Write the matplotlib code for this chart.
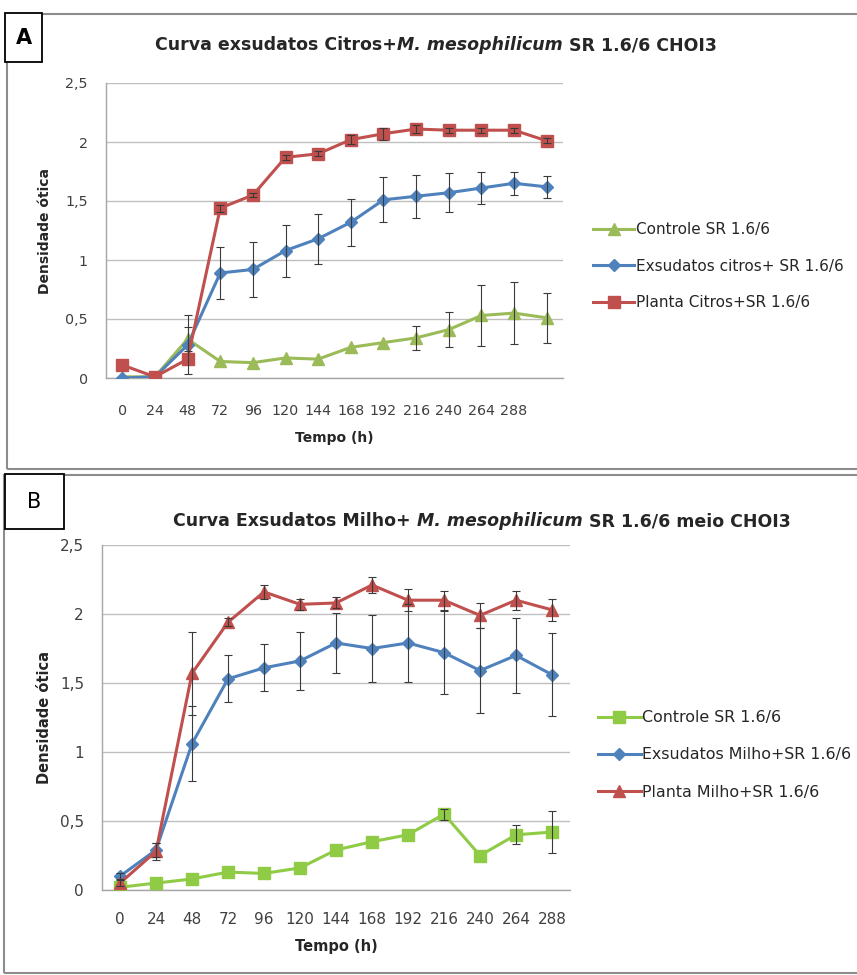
import numpy as np
import matplotlib
matplotlib.use("Agg")
import matplotlib.pyplot as plt
from matplotlib.patches import Rectangle

W, H = 857, 975

# eixo x (categorias)
horas = ["0", "24", "48", "72", "96", "120", "144", "168", "192", "216", "240", "264", "288"]

# painel A - citros (14 pontos, o ultimo sem rotulo)
a_controle = [0.01, 0.01, 0.33, 0.14, 0.13, 0.17, 0.16, 0.26, 0.30, 0.34, 0.41, 0.53, 0.55, 0.51]
a_controle_err = [0, 0, 0.10, 0, 0, 0, 0, 0, 0, 0.10, 0.15, 0.26, 0.26, 0.21]
a_exsudato = [0.00, 0.01, 0.28, 0.89, 0.92, 1.08, 1.18, 1.32, 1.51, 1.54, 1.57, 1.61, 1.65, 1.62]
a_exsudato_err = [0, 0, 0.25, 0.22, 0.23, 0.22, 0.21, 0.20, 0.19, 0.18, 0.165, 0.135, 0.10, 0.095]
a_planta = [0.11, 0.01, 0.16, 1.44, 1.55, 1.87, 1.90, 2.02, 2.07, 2.11, 2.10, 2.10, 2.10, 2.01]
a_planta_err = [0, 0, 0, 0.03, 0.02, 0.02, 0.02, 0.04, 0.05, 0.03, 0.02, 0.02, 0.02, 0.02]

# painel B - milho (13 pontos)
b_controle = [0.02, 0.05, 0.08, 0.13, 0.12, 0.16, 0.29, 0.35, 0.40, 0.55, 0.25, 0.40, 0.42]
b_controle_err = [0, 0, 0, 0, 0, 0, 0, 0, 0, 0.04, 0, 0.07, 0.15]
b_exsudato = [0.10, 0.29, 1.06, 1.53, 1.61, 1.66, 1.79, 1.75, 1.79, 1.72, 1.59, 1.70, 1.56]
b_exsudato_err = [0.02, 0.05, 0.27, 0.17, 0.17, 0.21, 0.22, 0.24, 0.28, 0.30, 0.31, 0.27, 0.30]
b_planta = [0.05, 0.28, 1.57, 1.94, 2.16, 2.07, 2.08, 2.21, 2.10, 2.10, 1.99, 2.10, 2.03]
b_planta_err = [0.02, 0.06, 0.30, 0.03, 0.05, 0.04, 0.04, 0.06, 0.08, 0.07, 0.09, 0.07, 0.08]

y_ticks = [0, 0.5, 1, 1.5, 2, 2.5]
y_labels = ["0", "0,5", "1", "1,5", "2", "2,5"]

VERDE_A = "#9BBB59"
VERDE_B = "#8FCB45"
AZUL = "#4F81BD"
VERMELHO = "#C0504D"
CINZA_TXT = "#404040"


def px_box(x0, y0, x1, y1):
    return [x0 / W, 1 - y1 / H, (x1 - x0) / W, (y1 - y0) / H]


def serie(ax, vals, errs, cor, marker, ms, label):
    x = np.arange(len(vals))
    v = np.array(vals)
    e = np.array(errs)
    m = e > 0
    ax.errorbar(x[m], v[m], yerr=e[m], fmt="none", ecolor="#3a3a3a",
                elinewidth=0.8, capsize=3, capthick=0.8, zorder=4)
    ln, = ax.plot(x, v, color=cor, lw=2.2, marker=marker, ms=ms,
                  mec=cor, mfc=cor, label=label, zorder=3)
    return ln


def estilo_eixo(ax, n, tick_fs, pad_x, lab_fs):
    ax.set_xlim(-0.5, n - 0.5)
    ax.set_ylim(0, 2.5)
    ax.set_yticks(y_ticks)
    ax.set_yticklabels(y_labels)
    ax.set_xticks(np.arange(len(horas)))
    ax.set_xticklabels(horas)
    ax.grid(axis="y", color="#BFBFBF", lw=1)
    ax.set_axisbelow(True)
    for s in ["top", "right"]:
        ax.spines[s].set_visible(False)
    for s in ["left", "bottom"]:
        ax.spines[s].set_color("#A6A6A6")
        ax.spines[s].set_linewidth(1)
    ax.tick_params(axis="y", length=0, pad=13, labelsize=tick_fs, labelcolor=CINZA_TXT)
    ax.tick_params(axis="x", length=0, pad=pad_x, labelsize=tick_fs, labelcolor=CINZA_TXT)
    ax.set_ylabel("Densidade ótica", fontsize=lab_fs, fontweight="bold", color="#262626")
    ax.set_xlabel("Tempo (h)", fontsize=lab_fs, fontweight="bold", color="#262626")


def titulo(fig, partes, cx, cy, fs):
    r = fig.canvas.get_renderer()
    textos = []
    for s, st in partes:
        t = fig.text(0, 1 - cy / H, s, fontsize=fs, fontweight="bold", fontstyle=st,
                     va="center", ha="left", color="#262626")
        textos.append(t)
    larg = [t.get_window_extent(r).width for t in textos]
    x = cx - sum(larg) / 2
    for t, w in zip(textos, larg):
        t.set_x(x / W)
        x += w


def moldura(fig, x0, y0, x1, y1, letra, peso):
    fig.add_artist(Rectangle((x0 / W, 1 - y1 / H), (x1 - x0) / W, (y1 - y0) / H,
                             transform=fig.transFigure, fc="white", ec="black",
                             lw=1.3, zorder=10))
    fig.text((x0 + x1) / 2 / W, 1 - (y0 + y1) / 2 / H, letra, fontsize=15,
             fontweight=peso, ha="center", va="center", zorder=11)


def legenda(fig, handles, x, y, fs):
    fig.legend(handles, [h.get_label() for h in handles], loc="center left",
               bbox_to_anchor=(x / W, 1 - y / H), frameon=False, fontsize=fs,
               handlelength=2.7, handletextpad=0.1, labelspacing=1.4, borderpad=0,
               borderaxespad=0, labelcolor="#262626")


fig = plt.figure(figsize=(W / 100, H / 100), dpi=100)

# bordas dos paineis
fig.add_artist(Rectangle((7 / W, 1 - 469 / H), 900 / W, (469 - 14) / H,
                         transform=fig.transFigure, fill=False, ec="#8C8C8C", lw=1.5))
fig.add_artist(Rectangle((4 / W, 1 - 973 / H), 900 / W, (973 - 475) / H,
                         transform=fig.transFigure, fill=False, ec="#8C8C8C", lw=1.5))

# ---- painel A
axA = fig.add_axes(px_box(106, 83, 563, 378))
hA = [
    serie(axA, a_controle, a_controle_err, VERDE_A, "^", 8.5, "Controle SR 1.6/6"),
    serie(axA, a_exsudato, a_exsudato_err, AZUL, "D", 6.5, "Exsudatos citros+ SR 1.6/6"),
    serie(axA, a_planta, a_planta_err, VERMELHO, "s", 8.5, "Planta Citros+SR 1.6/6"),
]
estilo_eixo(axA, len(a_planta), 10.3, 19, 10)
axA.xaxis.set_label_coords(0.5, -(431 - 378) / (378 - 83))
axA.yaxis.set_label_coords(-(106 - 52) / (563 - 106), 0.5)
legenda(fig, hA, 593, 266, 11.0)

# ---- painel B
axB = fig.add_axes(px_box(102, 545, 570, 890))
hB = [
    serie(axB, b_controle, b_controle_err, VERDE_B, "s", 9, "Controle SR 1.6/6"),
    serie(axB, b_exsudato, b_exsudato_err, AZUL, "D", 6.5, "Exsudatos Milho+SR 1.6/6"),
    serie(axB, b_planta, b_planta_err, VERMELHO, "^", 9, "Planta Milho+SR 1.6/6"),
]
estilo_eixo(axB, len(b_planta), 11, 16, 10.5)
axB.xaxis.set_label_coords(0.5, -(939 - 890) / (890 - 545))
axB.yaxis.set_label_coords(-(102 - 52) / (570 - 102), 0.5)
legenda(fig, hB, 598, 755, 11.4)

# titulos
titulo(fig, [("Curva exsudatos Citros+", "normal"), ("M. mesophilicum", "italic"),
             (" SR 1.6/6 CHOI3", "normal")], 436, 45, 12.5)
titulo(fig, [("Curva Exsudatos Milho+ ", "normal"), ("M. mesophilicum", "italic"),
             (" SR 1.6/6 meio CHOI3", "normal")], 482, 521, 12.5)

moldura(fig, 5, 13, 42, 62, "A", "bold")
moldura(fig, 5, 474, 64, 529, "B", "normal")

fig.savefig("out.png", dpi=100)
